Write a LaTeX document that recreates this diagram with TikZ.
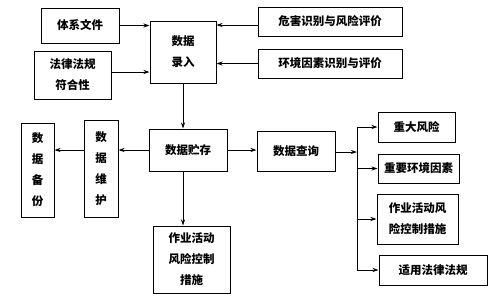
\documentclass[tikz,border=0pt]{standalone}
\usepackage{fontspec}
\newfontfamily\cjk{Noto Sans CJK SC}
\usetikzlibrary{arrows.meta}
\begin{document}
\begin{tikzpicture}[x=1pt,y=-1pt,
  box/.style={draw,line width=1pt,inner sep=0pt,align=center,font=\cjk\bfseries\fontsize{11.5}{21}\selectfont},
  arr/.style={line width=0.9pt,-{Stealth[length=6pt,width=4pt]}},
  ln/.style={line width=0.9pt}]
\useasboundingbox (0,0) rectangle (498,300);
\node[box,minimum width=78,minimum height=35] (tixi) at (80,25.5) {体系文件};
\node[box,minimum width=77,minimum height=48] (falv) at (72.5,75) {法律法规\\符合性};
\node[box,minimum width=66,minimum height=62] (luru) at (183,52) {数据\\录入};
\node[box,minimum width=144,minimum height=29] (weihai) at (330,21.5) {危害识别与风险评价};
\node[box,minimum width=144,minimum height=29] (huanjing) at (330,63.5) {环境因素识别与评价};
\node[box,minimum width=78,minimum height=42] (zhucun) at (188,150) {数据贮存};
\node[box,minimum width=34,minimum height=97] (weihu) at (101,168.5) {数\\据\\维\\护};
\node[box,minimum width=33,minimum height=94] (beifen) at (37.5,170) {数\\据\\备\\份};
\node[box,minimum width=77,minimum height=67] (zuoyeA) at (191.5,259.5) {作业活动\\风险控制\\措施};
\node[box,minimum width=78,minimum height=40] (chaxun) at (296,151) {数据查询};
\node[box,minimum width=77,minimum height=30] (zhongda) at (416.5,127) {重大风险};
\node[box,minimum width=81,minimum height=29] (yinsu) at (418.5,168.5) {重要环境因素};
\node[box,minimum width=81,minimum height=50] (zuoyeB) at (417.5,219) {作业活动风\\险控制措施};
\node[box,minimum width=108,minimum height=30] (shiyong) at (433,270) {适用法律法规};
\coordinate (bus) at (357,152);
% arrows into data entry
\draw[arr] (tixi.east) -- (tixi.east -| luru.west);
\draw[arr] ([yshift=3pt]falv.east) -- ([yshift=3pt]falv.east -| luru.west);
\draw[arr] ([yshift=-3.5pt]weihai.west) -- ([yshift=-3.5pt]weihai.west -| luru.east);
\draw[arr] (huanjing.west) -- (huanjing.west -| luru.east);
\draw[arr] (luru.south) -- (luru.south |- zhucun.north);
% storage
\draw[arr] (zhucun.west) -- (zhucun.west -| weihu.east);
\draw[arr] (weihu.west |- zhucun.west) -- (beifen.east |- zhucun.west);
\draw[arr] (luru.south |- zhucun.south) -- (luru.south |- zuoyeA.north);
\draw[arr] (zhucun.east) -- (zhucun.east -| chaxun.west);
% query
\draw[arr] (chaxun.east |- bus) -- (bus);
\draw[ln] (bus |- zhongda.west) -- (bus |- shiyong.west);
\draw[arr] (bus |- zhongda.west) -- (zhongda.west);
\draw[arr] (bus |- yinsu.west) -- (yinsu.west);
\draw[arr] (bus |- zuoyeB.west) -- (zuoyeB.west);
\draw[arr] (bus |- shiyong.west) -- (shiyong.west);
\end{tikzpicture}
\end{document}
